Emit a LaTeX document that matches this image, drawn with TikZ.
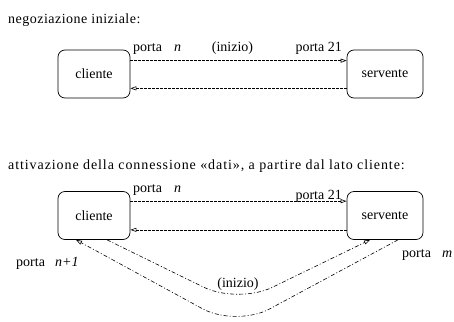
\documentclass[tikz,border=0pt]{standalone}
\usepackage{fontspec}
\setmainfont{Liberation Serif}
\newfontfamily\titleA[LetterSpace=3.5]{Liberation Serif}
\newfontfamily\titleB[LetterSpace=6.5]{Liberation Serif}
\usetikzlibrary{arrows.meta}
\begin{document}
\begin{tikzpicture}[x=1pt,y=-1pt,
  every node/.style={font=\fontsize{14}{16}\selectfont},
  box/.style={draw, line width=0.7pt, rounded corners=7pt, minimum height=48pt, inner sep=0pt},
  cbox/.style={box, minimum width=72pt},
  sbox/.style={box, minimum width=76pt},
  lbl/.style={inner sep=0pt, anchor=base west},
  lblc/.style={inner sep=0pt, anchor=base},
  lble/.style={inner sep=0pt, anchor=base east},
  tip/.style={-{Triangle[open,length=6pt,width=4pt]}},
  dashline/.style={tip, line width=0.6pt, dash pattern=on 2.5pt off 1.5pt},
  dotdash/.style={tip, line width=0.6pt, dash pattern=on 4pt off 2pt on 1pt off 2pt, rounded corners=38pt}]
\useasboundingbox (0,0) rectangle (454,321);
% ---- first part
\node[lbl, font=\fontsize{14}{16}\titleA] (t1) at (8,23.5) {negoziazione iniziale:};
\node[cbox] (c1) at (94,74) {cliente};
\node[sbox] (s1) at (385,74) {servente};
\draw[dashline] ([yshift=-11pt]c1.north east) -- ([yshift=-11pt]s1.north west);
\draw[dashline] ([yshift=10pt]s1.south west) -- ([yshift=10pt]c1.south east);
\node[lbl] (p1) at (133,52) {porta};
\node[lbl] (n1) at (174,52) {\textit{n}};
\node[lblc] (i1) at (232.5,52) {(inizio)};
\node[lble] (p21a) at (342,52) {porta 21};
% ---- second part
\node[lbl, font=\fontsize{14}{16}\titleB] (t2) at (8,169.5) {attivazione della connessione «dati», a partire dal lato cliente:};
\node[cbox] (c2) at (94,215.5) {cliente};
\node[sbox] (s2) at (385,215.5) {servente};
\draw[dashline] ([yshift=-10pt]c2.north east) -- ([yshift=-10pt]s2.north west);
\draw[dashline] ([yshift=10pt]s2.south west) -- ([yshift=10pt]c2.south east);
\node[lbl] (p2) at (133,192) {porta};
\node[lbl] (n2) at (174,192) {\textit{n}};
\node[lble] (p21b) at (342,199) {porta 21};
\coordinate (k1) at (238,304);
\coordinate (k2) at (236,327);
\draw[dotdash] ([xshift=13pt]c2.south) -- (k1) -- ([xshift=-15pt]s2.south);
\draw[dotdash] ([xshift=13pt]s2.south) -- (k2) -- ([xshift=-18pt]c2.south);
\node[lbl] (p3) at (16,266) {porta};
\node[lbl] (n3) at (55,266) {\textit{n+1}};
\node[lbl] (p4) at (402,257) {porta};
\node[lbl] (m4) at (442,257) {\textit{m}};
\node[lblc] (i2) at (238,287) {(inizio)};
\end{tikzpicture}
\end{document}
